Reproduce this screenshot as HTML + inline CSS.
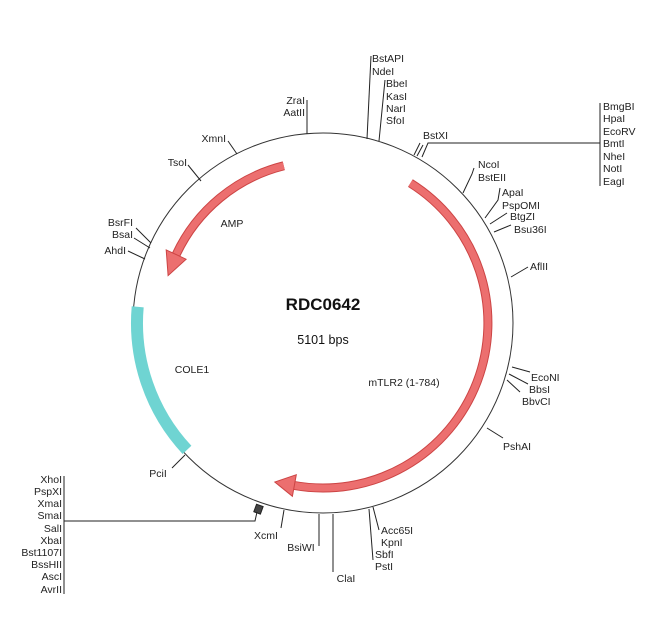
<!DOCTYPE html>
<html><head><meta charset="utf-8"><style>
html,body{margin:0;padding:0;background:#fff;}
svg{display:block;font-family:"Liberation Sans",Arial,sans-serif;}
text{font-size:10.5px;fill:#222;}
</style></head><body>
<svg width="650" height="637" viewBox="0 0 650 637">
<rect width="650" height="637" fill="#fff"/>
<circle cx="323" cy="323" r="190" fill="none" stroke="#333" stroke-width="1"/>
<!-- COLE1 -->
<path d="M137.7,306.8 A186,186 0 0 0 187,449.9" fill="none" stroke="#6fd4d2" stroke-width="12"/>
<!-- AMP -->
<path d="M283.8,165.8 A162,162 0 0 0 176.2,254.5" fill="none" stroke="#c44" stroke-width="9"/>
<path d="M283.8,165.8 A162,162 0 0 0 176.2,254.5" fill="none" stroke="#ec6f6f" stroke-width="7"/>
<polygon points="166.2,249.9 186.1,259.2 168.1,275.6" fill="#ec6f6f" stroke="#c44" stroke-width="1"/>
<!-- mTLR2 -->
<path d="M410.4,183.1 A165,165 0 0 1 294.3,485.5" fill="none" stroke="#c44" stroke-width="9"/>
<path d="M410.4,183.1 A165,165 0 0 1 294.3,485.5" fill="none" stroke="#ec6f6f" stroke-width="7"/>
<polygon points="292.4,496.3 296.3,474.7 274.8,482" fill="#ec6f6f" stroke="#c44" stroke-width="1"/>
<g stroke="#222" stroke-width="1" fill="none">
<line x1="307" y1="134" x2="307" y2="100"/>
<line x1="367" y1="139" x2="371" y2="56"/>
<line x1="379" y1="141" x2="385" y2="80"/>
<line x1="414" y1="155" x2="420" y2="143"/>
<line x1="417" y1="156" x2="423" y2="145"/>
<polyline points="422,157 428,143 600,143"/>
<line x1="600" y1="103" x2="600" y2="186"/>
<polyline points="463,193 472,174 474,168"/>
<polyline points="485,218 498,200 500,188"/>
<line x1="490" y1="224" x2="507" y2="213"/>
<line x1="494" y1="232" x2="511" y2="225"/>
<line x1="511" y1="277" x2="528" y2="267"/>
<line x1="512" y1="367" x2="530" y2="372"/>
<line x1="509" y1="374" x2="528" y2="384"/>
<line x1="507" y1="380" x2="520" y2="392"/>
<line x1="487" y1="428" x2="503" y2="438"/>
<line x1="373" y1="507" x2="379" y2="530"/>
<line x1="369" y1="509" x2="373" y2="560"/>
<line x1="333" y1="514" x2="333" y2="572"/>
<line x1="319" y1="514" x2="319" y2="546"/>
<line x1="284" y1="510" x2="281" y2="528"/>
<rect x="255" y="505" width="7" height="8" fill="#444" transform="rotate(20 258 509)"/>
<polyline points="257,512 255,521 64,521"/>
<line x1="64" y1="476" x2="64" y2="594"/>
<line x1="185" y1="455" x2="172" y2="468"/>
<line x1="151" y1="243" x2="136" y2="228"/>
<line x1="150" y1="248" x2="134" y2="238"/>
<line x1="145" y1="259" x2="128" y2="251"/>
<line x1="201" y1="181" x2="188" y2="165"/>
<line x1="237" y1="154" x2="228" y2="141"/>
</g>
<g>
<text x="305" y="104" text-anchor="end">ZraI</text>
<text x="305" y="116" text-anchor="end">AatII</text>
<text x="372" y="62">BstAPI</text>
<text x="372" y="75">NdeI</text>
<text x="386" y="87">BbeI</text>
<text x="386" y="100">KasI</text>
<text x="386" y="112">NarI</text>
<text x="386" y="124">SfoI</text>
<text x="423" y="139">BstXI</text>
<text x="603" y="110">BmgBI</text>
<text x="603" y="122">HpaI</text>
<text x="603" y="135">EcoRV</text>
<text x="603" y="147">BmtI</text>
<text x="603" y="160">NheI</text>
<text x="603" y="172">NotI</text>
<text x="603" y="185">EagI</text>
<text x="478" y="168">NcoI</text>
<text x="478" y="181">BstEII</text>
<text x="502" y="196">ApaI</text>
<text x="502" y="209">PspOMI</text>
<text x="510" y="220">BtgZI</text>
<text x="514" y="233">Bsu36I</text>
<text x="530" y="270">AflII</text>
<text x="531" y="381">EcoNI</text>
<text x="529" y="393">BbsI</text>
<text x="522" y="405">BbvCI</text>
<text x="503" y="450">PshAI</text>
<text x="381" y="534">Acc65I</text>
<text x="381" y="546">KpnI</text>
<text x="375" y="558">SbfI</text>
<text x="375" y="570">PstI</text>
<text x="346" y="582" text-anchor="middle">ClaI</text>
<text x="301" y="551" text-anchor="middle">BsiWI</text>
<text x="266" y="539" text-anchor="middle">XcmI</text>
<text x="158" y="477" text-anchor="middle">PciI</text>
<text x="133" y="226" text-anchor="end">BsrFI</text>
<text x="133" y="238" text-anchor="end">BsaI</text>
<text x="126" y="254" text-anchor="end">AhdI</text>
<text x="187" y="166" text-anchor="end">TsoI</text>
<text x="226" y="142" text-anchor="end">XmnI</text>
<text x="62" y="483" text-anchor="end">XhoI</text>
<text x="62" y="495" text-anchor="end">PspXI</text>
<text x="62" y="507" text-anchor="end">XmaI</text>
<text x="62" y="519" text-anchor="end">SmaI</text>
<text x="62" y="532" text-anchor="end">SalI</text>
<text x="62" y="544" text-anchor="end">XbaI</text>
<text x="62" y="556" text-anchor="end">Bst1107I</text>
<text x="62" y="568" text-anchor="end">BssHII</text>
<text x="62" y="580" text-anchor="end">AscI</text>
<text x="62" y="593" text-anchor="end">AvrII</text>
<text x="232" y="227" text-anchor="middle">AMP</text>
<text x="192" y="373" text-anchor="middle">COLE1</text>
<text x="404" y="386" text-anchor="middle">mTLR2 (1-784)</text>
<text x="323" y="310" text-anchor="middle" style="font-size:17px;font-weight:bold;fill:#111">RDC0642</text>
<text x="323" y="344" text-anchor="middle" style="font-size:12.5px;fill:#111">5101 bps</text>
</g>
</svg>
</body></html>
